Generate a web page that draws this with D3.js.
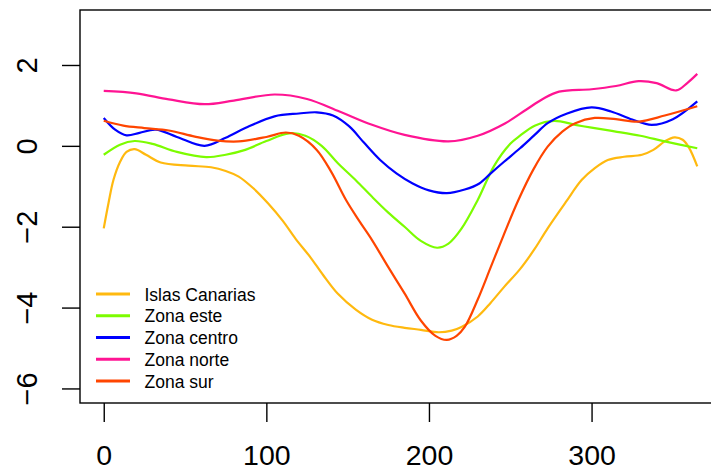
<!DOCTYPE html>
<html>
<head>
<meta charset="utf-8">
<script src="https://cdn.jsdelivr.net/npm/d3@7"></script>
<style>
  html, body { margin: 0; padding: 0; background: #fff; }
  svg { display: block; font-family: "Liberation Sans", Arial, Helvetica, sans-serif; }
</style>
</head>
<body>
<svg id="chart" width="711" height="471"></svg>
<script>
// Day of year and smoothed anomaly per region
const seriesNames = ["Islas Canarias", "Zona este", "Zona centro", "Zona norte", "Zona sur"];
const seriesColors = ["#FFB90F", "#7CFC00", "#0000FF", "#FF1493", "#FF4500"];

const canariasDays = [0, 3, 6, 10, 14, 19, 26, 35, 52, 66, 75, 83, 92, 101, 110, 118, 127, 135, 144, 155, 165, 175, 185, 195, 206, 214, 220, 230, 238, 246, 256, 265, 273, 284, 294, 302, 310, 320, 331, 338, 345, 351, 356, 360, 365];
const canariasVals = [-2.04, -1.4, -0.84, -0.4, -0.15, -0.08, -0.22, -0.41, -0.49, -0.53, -0.62, -0.76, -1.05, -1.42, -1.85, -2.3, -2.75, -3.2, -3.66, -4.05, -4.3, -4.43, -4.5, -4.55, -4.61, -4.57, -4.48, -4.22, -3.88, -3.5, -3.05, -2.55, -2.04, -1.4, -0.84, -0.55, -0.35, -0.27, -0.22, -0.1, 0.11, 0.21, 0.15, -0.05, -0.51];

const esteDays = [0, 10, 19, 30, 45, 63, 75, 87, 100, 114, 124, 134, 144, 155, 165, 175, 185, 195, 205, 212, 220, 230, 240, 250, 256, 265, 277, 290, 300, 314, 330, 345, 365];
const esteVals = [-0.22, 0.03, 0.12, 0.05, -0.15, -0.28, -0.22, -0.1, 0.12, 0.31, 0.25, 0.0, -0.43, -0.85, -1.26, -1.65, -2.0, -2.35, -2.52, -2.42, -2.05, -1.34, -0.5, 0.05, 0.25, 0.5, 0.62, 0.52, 0.45, 0.36, 0.25, 0.11, -0.06];

const centroDays = [0, 7, 14, 22, 32, 45, 62, 75, 87, 105, 120, 131, 141, 151, 160, 170, 180, 190, 200, 211, 222, 231, 238, 246, 256, 265, 273, 285, 300, 312, 325, 337, 350, 365];
const centroVals = [0.69, 0.4, 0.26, 0.32, 0.4, 0.22, 0.0, 0.2, 0.44, 0.73, 0.8, 0.83, 0.75, 0.48, 0.08, -0.35, -0.68, -0.93, -1.1, -1.17, -1.08, -0.93, -0.68, -0.4, -0.06, 0.27, 0.56, 0.8, 0.95, 0.85, 0.65, 0.52, 0.66, 1.1];

const norteDays = [0, 20, 40, 62, 80, 105, 125, 145, 165, 185, 212, 230, 247, 260, 270, 280, 300, 315, 329, 340, 352, 359, 365];
const norteVals = [1.36, 1.3, 1.15, 1.03, 1.12, 1.27, 1.16, 0.85, 0.52, 0.27, 0.11, 0.25, 0.56, 0.9, 1.16, 1.34, 1.4, 1.48, 1.6, 1.55, 1.37, 1.56, 1.78];

const surDays = [0, 12, 25, 40, 56, 70, 83, 100, 112, 120, 131, 140, 149, 157, 165, 175, 185, 195, 204, 211, 217, 222, 230, 238, 246, 255, 264, 273, 282, 290, 302, 315, 329, 345, 365];
const surVals = [0.62, 0.5, 0.44, 0.38, 0.23, 0.13, 0.11, 0.22, 0.33, 0.25, -0.1, -0.65, -1.34, -1.85, -2.33, -3.0, -3.65, -4.32, -4.7, -4.8, -4.7, -4.48, -3.8, -3.0, -2.2, -1.34, -0.6, -0.02, 0.35, 0.56, 0.69, 0.66, 0.6, 0.75, 0.98];

const xTicks = [0, 100, 200, 300];
const yTicks = [-6, -4, -2, 0, 2];

const seriesDays = [canariasDays, esteDays, centroDays, norteDays, surDays];
const seriesVals = [canariasVals, esteVals, centroVals, norteVals, surVals];

const svg = d3.select("#chart");

// Plot region (right edge runs past the window)
const plotL = 80, plotR = 721, plotT = 10, plotB = 403;
const x = d3.scaleLinear().domain([-14.6, 379.6]).range([plotL, plotR]);
const y = d3.scaleLinear().domain([-6.36, 3.36]).range([plotB, plotT]);

// Series lines
const line = d3.line()
  .x(d => x(d[0]))
  .y(d => y(d[1]))
  .curve(d3.curveCatmullRom.alpha(0.5));

seriesNames.forEach((name, i) => {
  const pts = seriesDays[i].map((d, j) => [d, seriesVals[i][j]]);
  svg.append("path")
    .datum(pts)
    .attr("fill", "none")
    .attr("stroke", seriesColors[i])
    .attr("stroke-width", 2.2)
    .attr("stroke-linejoin", "round")
    .attr("d", line);
});

// Box around plot region
svg.append("rect")
  .attr("x", plotL).attr("y", plotT)
  .attr("width", plotR - plotL).attr("height", plotB - plotT)
  .attr("fill", "none").attr("stroke", "#000").attr("stroke-width", 1.4);

// Bottom axis
const xAxis = svg.append("g")
  .attr("transform", `translate(0,${plotB})`)
  .call(d3.axisBottom(x).tickValues(xTicks).tickSize(19).tickSizeOuter(0).tickFormat(d3.format("d")));
xAxis.select(".domain").remove();
xAxis.selectAll(".tick line").attr("stroke", "#000").attr("stroke-width", 1.4);
xAxis.selectAll(".tick text")
  .attr("y", 62).attr("dy", null)
  .attr("fill", "#000")
  .style("font-size", "28.5px")
  .style("font-family", "'Liberation Sans', Arial, sans-serif");

// Left axis with rotated labels
const yAxis = svg.append("g")
  .attr("transform", `translate(${plotL},0)`)
  .call(d3.axisLeft(y).tickValues(yTicks).tickSize(18).tickSizeOuter(0).tickFormat(d => d < 0 ? "\u2212" + Math.abs(d) : String(d)));
yAxis.select(".domain").remove();
yAxis.selectAll(".tick line").attr("stroke", "#000").attr("stroke-width", 1.4);
yAxis.selectAll(".tick text")
  .attr("x", null).attr("dy", null)
  .attr("transform", "translate(-43,0) rotate(-90)")
  .attr("text-anchor", "middle")
  .attr("fill", "#000")
  .style("font-size", "29px")
  .style("font-family", "'Liberation Sans', Arial, sans-serif");

// Legend
const legend = svg.append("g");
seriesNames.forEach((name, i) => {
  const ly = 294 + i * 21.75;
  legend.append("line")
    .attr("x1", 96).attr("x2", 130)
    .attr("y1", ly).attr("y2", ly)
    .attr("stroke", seriesColors[i]).attr("stroke-width", 3);
  legend.append("text")
    .attr("x", 144.5).attr("y", ly + 6.5)
    .attr("fill", "#000")
    .style("font-size", "17.5px")
    .text(name);
});
</script>
</body>
</html>
